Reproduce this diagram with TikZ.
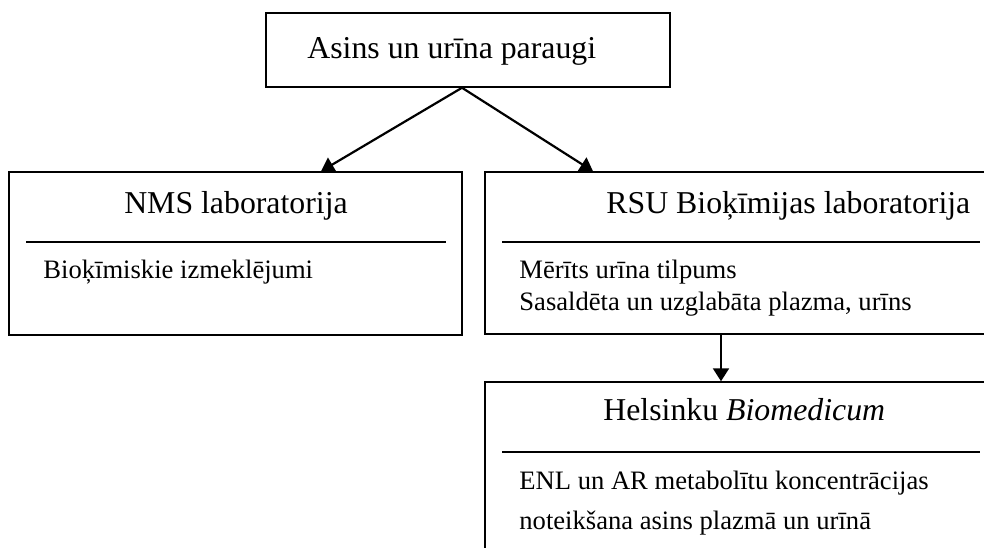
\documentclass[tikz,border=0pt]{standalone}
\usepackage{fontspec}
\setmainfont{Liberation Serif}
\usepackage{tikz}
\usetikzlibrary{arrows.meta,positioning}

\begin{document}
\begin{tikzpicture}[x=0.5pt, y=-0.5pt]
%\draw[very thin, color = gray](0, 0) grid[step=50] (984, 547);
\tikzstyle{block} = [draw, rectangle, line width = 0.75pt, inner sep = 0pt];
\tikzstyle{line} = [draw, -{Triangle[length=6.5pt, width=8pt]}, line width = 1.1pt]
\tikzstyle{rule} = [draw, line width = 1pt]
\tikzstyle{head} = [inner sep = 0pt, font = \fontsize{15.9}{19}\selectfont]
\tikzstyle{body} = [inner sep = 0pt, anchor = base west, font = \fontsize{13.3}{16}\selectfont]
\useasboundingbox (0, 0) rectangle (984, 547);
\clip (0, 0) rectangle (984, 547);
% boxes
\node [block, minimum width = 202pt, minimum height = 37pt] at (468, 50) (samples) {};
\node [block, minimum width = 226.5pt, minimum height = 81.5pt] at (235.5, 253.5) (nms) {};
\node [block, minimum width = 255.5pt, minimum height = 81pt] at (740.5, 253) (rsu) {};
\node [block, minimum width = 255.5pt, minimum height = 110pt] at (740.5, 492) (helsinki) {};
% arrows
\path [line] ([xshift = -3pt]samples.south) -- ([xshift = 42.75pt]nms.north);
\path [line] ([xshift = -3pt]samples.south) -- ([xshift = -73.75pt]rsu.north);
\path [line] ([xshift = -9.75pt]rsu.south) -- ([xshift = -9.75pt]helsinki.north);
% dividers
\path [rule] (26, 242) -- (446, 242);
\path [rule] (502, 242) -- (980, 242);
\path [rule] (502, 452) -- (980, 452);
% texts
\node [head, anchor = base west] at (307, 58) (samplestxt) {Asins un urīna paraugi};
\node [head, anchor = base] at (236, 213) (nmstxt) {NMS laboratorija};
\node [body] at (43, 278) (nmsbody) {Bioķīmiskie izmeklējumi};
\node [head, anchor = base west] at (606, 213) (rsutxt) {RSU Bioķīmijas laboratorija};
\node [body] at (519, 278) (rsubodya) {Mērīts urīna tilpums};
\node [body] at (519, 310) (rsubodyb) {Sasaldēta un uzglabāta plazma, urīns};
\node [head, anchor = base west] at (603, 420) (helsinkitxt) {Helsinku \textit{Biomedicum}};
\node [body] at (519, 489) (helsinkibodya) {ENL un AR metabolītu koncentrācijas};
\node [body] at (519, 529) (helsinkibodyb) {noteikšana asins plazmā un urīnā};
\end{tikzpicture}
\end{document}
